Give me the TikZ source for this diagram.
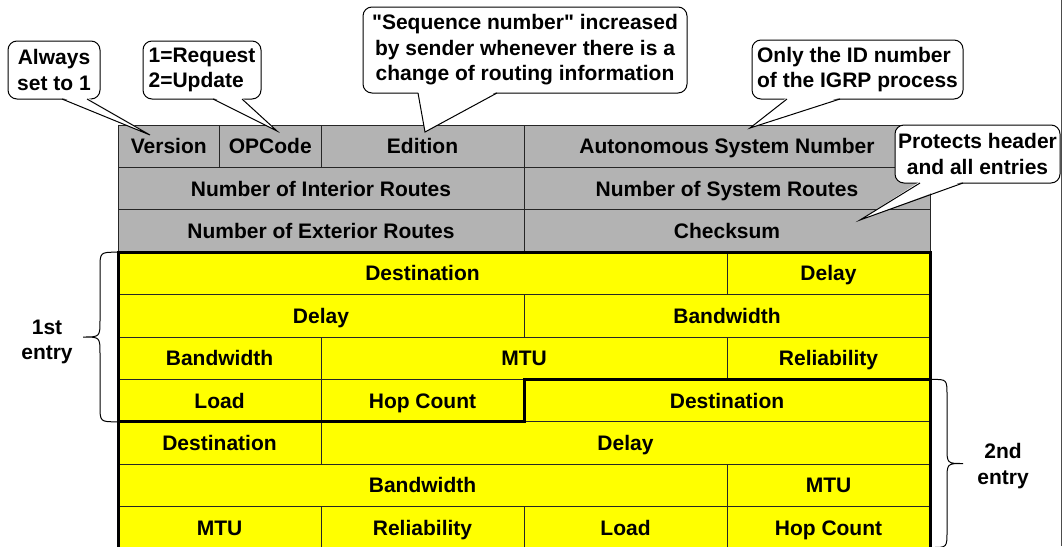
\documentclass[tikz,border=0pt]{standalone}
\usepackage{fontspec}
\setmainfont{Liberation Sans}
\usetikzlibrary{positioning,calc}

\definecolor{hdrgray}{RGB}{179,179,179}
\definecolor{entryyellow}{RGB}{255,255,0}

% pointer of a callout: node, left and right offset on its lower edge, tip
\newcommand\callptr[4]{%
\fill[white] ($(#1.south west)+(#2,-1.6)$) -- (#4) -- ($(#1.south west)+(#3,-1.6)$) -- cycle;
\draw[thin] ($(#1.south west)+(#2,0)$) -- (#4) -- ($(#1.south west)+(#3,0)$);}

\begin{document}
\begin{tikzpicture}[x=1pt,y=-1pt,
font=\fontsize{21}{25.5}\selectfont\bfseries]
\tikzstyle{cell}=[draw=black!85,line width=1pt,outer sep=0pt,inner sep=0pt,
minimum height=42.4pt,text height=15.5pt,text depth=0.5pt]
\tikzstyle{hdr}=[cell,fill=hdrgray]
\tikzstyle{fld}=[cell,fill=entryyellow]
\tikzstyle{half}=[minimum width=101.5pt]
\tikzstyle{one}=[minimum width=203pt]
\tikzstyle{two}=[minimum width=406pt]
\tikzstyle{three}=[minimum width=609pt]
\tikzstyle{note}=[draw,fill=white,line width=1pt,rounded corners=9pt,
inner sep=0pt,outer sep=0pt]
\tikzstyle{entry}=[line width=3pt,line join=miter]
\tikzstyle{thin}=[line width=1pt]

\useasboundingbox (0,0) rectangle (1062,546);

% header
\node[hdr,half] (ver) at (118,125) [anchor=north west] {Version};
\node[hdr,half] (opc) [right=0pt of ver] {OPCode};
\node[hdr,one] (edi) [right=0pt of opc] {Edition};
\node[hdr,two] (asn) [right=0pt of edi] {Autonomous System Number};

\node[hdr,two] (nir) [below right=0pt and 0pt of ver.south west] {Number of Interior Routes};
\node[hdr,two] (nsr) [right=0pt of nir] {Number of System Routes};

\node[hdr,two] (ner) [below right=0pt and 0pt of nir.south west] {Number of Exterior Routes};
\node[hdr,two] (chk) [right=0pt of ner] {Checksum};

% entries
\node[fld,three] (dstA) [below right=0pt and 0pt of ner.south west] {Destination};
\node[fld,one] (dlyA1) [right=0pt of dstA] {Delay};

\node[fld,two] (dlyA2) [below right=0pt and 0pt of dstA.south west] {Delay};
\node[fld,two] (bwA1) [right=0pt of dlyA2] {Bandwidth};

\node[fld,one] (bwA2) [below right=0pt and 0pt of dlyA2.south west] {Bandwidth};
\node[fld,two] (mtuA) [right=0pt of bwA2] {MTU};
\node[fld,one] (relA) [right=0pt of mtuA] {Reliability};

\node[fld,one] (ldA) [below right=0pt and 0pt of bwA2.south west] {Load};
\node[fld,one] (hopA) [right=0pt of ldA] {Hop Count};
\node[fld,two] (dstB1) [right=0pt of hopA] {Destination};

\node[fld,one] (dstB2) [below right=0pt and 0pt of ldA.south west] {Destination};
\node[fld,three] (dlyB) [right=0pt of dstB2] {Delay};

\node[fld,three] (bwB) [below right=0pt and 0pt of dstB2.south west] {Bandwidth};
\node[fld,one] (mtuB1) [right=0pt of bwB] {MTU};

\node[fld,one] (mtuB2) [below right=0pt and 0pt of bwB.south west] {MTU};
\node[fld,one] (relB) [right=0pt of mtuB2] {Reliability};
\node[fld,one] (ldB) [right=0pt of relB] {Load};
\node[fld,one] (hopB) [right=0pt of ldB] {Hop Count};

% entry outlines
\draw[entry] (hopA.north east) -- (relA.south east) -- (dlyA1.north east)
  -- (dstA.north west) -- (ldA.south west) -- (hopA.south east) -- cycle;
\draw[entry] (relA.south east) -- ($(hopB.south east)+(0,6)$);
\draw[entry] (ldA.south west) -- ($(mtuB2.south west)+(0,6)$);

% braces
\draw[thin] (117,252.2) .. controls (100,252.2) .. (100,269) -- (100,320)
  .. controls (100,337) .. (83,337) .. controls (100,337) .. (100,354)
  -- (100,405) .. controls (100,421.8) .. (117,421.8);
\draw[thin] (932,379.4) .. controls (947,379.4) .. (947,396) -- (947,447)
  .. controls (947,463.5) .. (963,463.5) .. controls (947,463.5) .. (947,480)
  -- (947,531) .. controls (947,547.5) .. (932,547.5);

\node[align=center] (first) at (47,342) {1st\\entry};
\node[align=center] (second) at (1003,466) {2nd\\entry};

% callouts
\node[note,minimum width=92pt,minimum height=58pt,align=center] (always) at (54,70)
  {Always\\set to 1};
\node[note,minimum width=118pt,minimum height=58pt,align=left] (opnote) at (202,70)
  {1=Request\\2=Update};
\node[note,minimum width=324pt,minimum height=86pt,align=center] (seqnote) at (525,50)
  {\textquotedbl Sequence number\textquotedbl\ increased\\by sender whenever there is a\\change of routing information};
\node[note,minimum width=211pt,minimum height=59pt,align=left] (idnote) at (857.5,69.5)
  {Only the ID number\\of the IGRP process};
\node[note,minimum width=165pt,minimum height=58pt,align=center] (chknote) at (977.5,154)
  {Protects header\\and all entries};

\coordinate (verpt) at (150,135);
\coordinate (opcpt) at (277,131);
\coordinate (edipt) at (425,132);
\coordinate (asnpt) at (750,128);
\coordinate (chkpt) at (860,220);

\callptr{always}{54}{79}{verpt}
\callptr{opnote}{70}{99}{opcpt}
\callptr{seqnote}{55}{134}{edipt}
\callptr{idnote}{35}{88}{asnpt}
\callptr{chknote}{25}{68}{chkpt}

\draw[thin,black!70] (1061.5,0) -- (1061.5,546);
\end{tikzpicture}
\end{document}
